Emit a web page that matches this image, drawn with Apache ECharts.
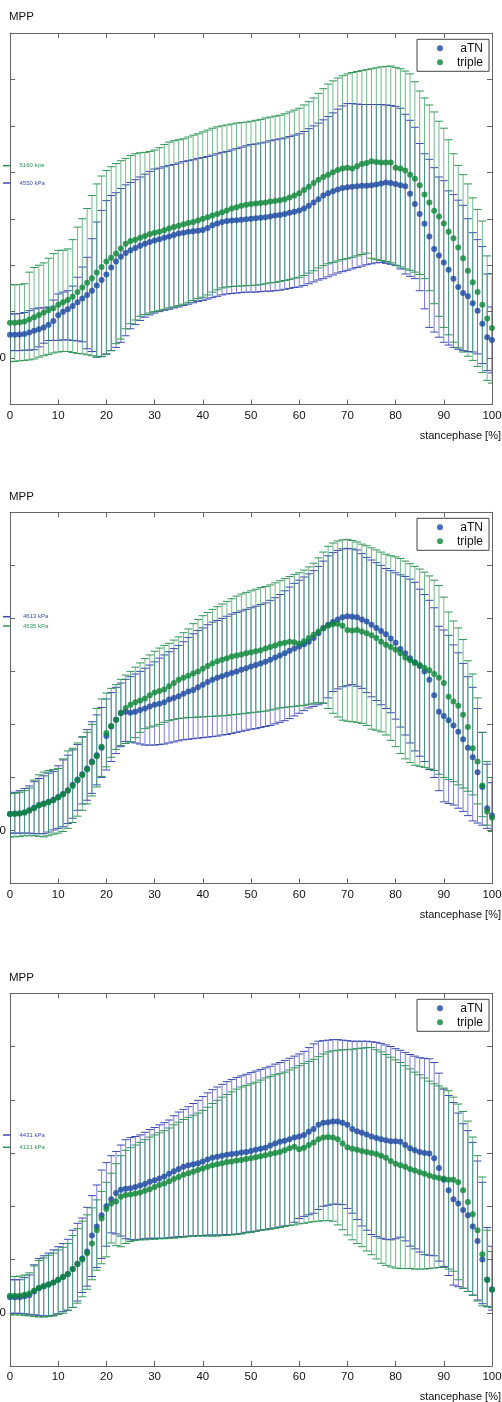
<!DOCTYPE html>
<html><head><meta charset="utf-8">
<script src="https://cdn.jsdelivr.net/npm/echarts@6/dist/echarts.min.js"></script>
<style>html,body{margin:0;padding:0;background:#fff}#c{width:502px;height:1402px}</style>
</head><body><div id="c"></div><script>
// stance phase positions (0..100 %)
const stance = Array.from({length: 101}, (_, i) => i);
const yTickLabels = ['0'];
const seriesNames = ['aTN', 'triple'];

// ---------- Panel 1 ----------
const p1_aTN_mean = [
.50,.50,.51,.52,.55,.59,.62,.66,.72,.80,
.92,1.00,1.05,1.12,1.20,1.28,1.36,1.45,1.56,1.68,
1.80,1.95,2.08,2.18,2.26,2.32,2.37,2.42,2.46,2.50,
2.53,2.56,2.59,2.62,2.65,2.68,2.70,2.72,2.73,2.74,
2.76,2.80,2.86,2.90,2.93,2.95,2.96,2.97,2.98,2.99,
3.00,3.01,3.02,3.03,3.05,3.07,3.08,3.10,3.13,3.15,
3.18,3.22,3.28,3.35,3.42,3.50,3.55,3.59,3.63,3.66,
3.68,3.69,3.70,3.71,3.71,3.72,3.74,3.76,3.78,3.77,
3.75,3.72,3.70,3.54,3.32,3.10,2.89,2.62,2.35,2.21,
2.06,1.90,1.71,1.53,1.40,1.33,1.18,1.02,0.74,0.45,0.39];
const p1_aTN_hi = [
.95,.95,.96,.98,1.02,1.06,1.08,1.08,1.10,1.25,
1.38,1.42,1.45,1.55,1.74,1.96,2.17,2.57,2.93,3.18,
3.39,3.50,3.56,3.65,3.73,3.78,3.84,3.90,3.96,4.02,
4.07,4.09,4.12,4.15,4.17,4.20,4.23,4.25,4.27,4.30,
4.32,4.34,4.37,4.40,4.43,4.45,4.48,4.51,4.54,4.57,
4.60,4.61,4.63,4.65,4.68,4.70,4.72,4.74,4.77,4.80,
4.83,4.88,4.94,5.00,5.06,5.13,5.20,5.28,5.36,5.43,
5.48,5.48,5.47,5.46,5.46,5.46,5.46,5.46,5.45,5.44,
5.42,5.38,5.25,5.12,4.97,4.62,4.40,4.28,4.10,3.90,
3.82,3.60,3.52,3.40,3.29,3.00,2.70,2.55,2.40,1.81,1.10];
const p1_aTN_lo = [
.16,.16,.16,.17,.17,.18,.24,.32,.38,.38,
.38,.39,.39,.38,.37,.35,.20,.14,.02,.03,
.09,.16,.23,.34,.48,.63,.72,.81,.88,.93,
.97,1.00,1.03,1.05,1.08,1.10,1.13,1.16,1.19,1.22,
1.24,1.27,1.30,1.33,1.36,1.38,1.39,1.40,1.41,1.42,
1.42,1.42,1.43,1.44,1.44,1.45,1.46,1.48,1.50,1.52,
1.53,1.56,1.60,1.64,1.68,1.71,1.75,1.79,1.83,1.86,
1.89,1.92,1.95,1.98,2.01,2.03,2.05,2.06,2.04,2.02,
1.99,1.92,1.81,1.76,1.71,1.45,1.06,.66,.56,.45,
.34,.28,.23,.19,.16,.14,.13,.09,-.12,-.27,-.32];
const p1_triple_mean = [
.76,.76,.77,.79,.83,.88,.93,.98,1.03,1.07,
1.15,1.20,1.25,1.32,1.42,1.52,1.62,1.72,1.84,1.96,
2.08,2.16,2.25,2.36,2.46,2.52,2.55,2.59,2.63,2.67,
2.70,2.72,2.75,2.79,2.82,2.85,2.88,2.91,2.93,2.96,
3.00,3.03,3.07,3.10,3.14,3.18,3.22,3.25,3.28,3.30,
3.32,3.33,3.34,3.35,3.37,3.38,3.40,3.42,3.46,3.50,
3.55,3.62,3.69,3.77,3.84,3.90,3.95,4.00,4.05,4.08,
4.10,4.08,4.13,4.18,4.20,4.24,4.22,4.21,4.21,4.21,
4.10,4.08,4.04,3.95,3.86,3.72,3.52,3.35,3.17,3.05,
2.90,2.72,2.58,2.38,2.15,1.88,1.63,1.42,1.15,0.85,0.65];
const p1_triple_hi = [
1.58,1.58,1.58,1.60,1.85,1.95,2.00,2.05,2.15,2.25,
2.32,2.32,2.35,2.55,2.82,3.00,3.22,3.50,3.75,3.92,
4.04,4.12,4.19,4.25,4.30,4.36,4.40,4.42,4.43,4.45,
4.48,4.53,4.60,4.65,4.68,4.70,4.72,4.76,4.80,4.83,
4.87,4.91,4.95,4.98,5.00,5.02,5.04,5.06,5.07,5.08,
5.10,5.12,5.14,5.17,5.19,5.21,5.23,5.26,5.30,5.34,
5.38,5.45,5.52,5.60,5.70,5.80,5.90,5.97,6.03,6.08,
6.12,6.15,6.17,6.19,6.21,6.23,6.25,6.27,6.28,6.29,
6.26,6.23,6.18,6.12,5.95,5.75,5.60,5.45,5.30,5.10,
4.95,4.70,4.40,4.15,3.95,3.75,3.45,3.20,2.95,2.20,1.82];
const p1_triple_lo = [
-.08,-.07,-.06,-.05,-.04,-.02,.02,.05,.08,.11,
.13,.14,.14,.12,.10,.09,.07,.05,.02,.04,
.08,.16,.31,.41,.63,.74,.82,.90,.94,.97,
1.00,1.02,1.05,1.08,1.10,1.13,1.16,1.20,1.24,1.28,
1.31,1.36,1.42,1.47,1.51,1.53,1.54,1.55,1.55,1.56,
1.56,1.57,1.58,1.60,1.62,1.63,1.65,1.67,1.69,1.72,
1.74,1.78,1.83,1.88,1.94,1.99,2.03,2.06,2.09,2.12,
2.14,2.17,2.20,2.23,2.26,2.15,2.12,2.10,2.08,2.05,
2.00,1.96,1.92,1.89,1.85,1.80,1.71,1.45,1.17,.90,
.66,.50,.34,.22,.13,.04,-.05,-.18,-.31,-.48,-.54];

// ---------- Panel 2 ----------
const p2_aTN_mean = [
.31,.32,.32,.34,.38,.43,.48,.51,.54,.58,
.63,.69,.76,.86,.96,1.06,1.17,1.30,1.42,1.56,
1.78,1.96,2.09,2.21,2.24,2.22,2.24,2.27,2.30,2.34,
2.37,2.39,2.42,2.47,2.50,2.53,2.58,2.62,2.65,2.70,
2.75,2.80,2.84,2.88,2.91,2.94,2.97,3.00,3.03,3.06,
3.09,3.12,3.15,3.18,3.22,3.26,3.30,3.34,3.39,3.43,
3.47,3.51,3.56,3.63,3.72,3.82,3.88,3.93,3.98,4.02,
4.04,4.03,4.02,3.98,3.94,3.88,3.82,3.76,3.70,3.62,
3.54,3.42,3.34,3.25,3.17,3.10,3.00,2.84,2.55,2.24,
2.16,2.08,1.98,1.86,1.72,1.56,1.38,1.10,0.82,0.42,0.28];
const p2_aTN_hi = [
.70,.72,.75,.79,.84,.92,.98,1.03,1.08,1.11,
1.22,1.33,1.42,1.52,1.62,1.76,1.90,2.05,2.18,2.32,
2.48,2.60,2.70,2.78,2.85,2.90,2.95,3.00,3.06,3.12,
3.18,3.25,3.31,3.37,3.43,3.49,3.56,3.64,3.71,3.77,
3.82,3.88,3.93,3.96,4.00,4.04,4.08,4.11,4.14,4.17,
4.20,4.23,4.26,4.29,4.34,4.39,4.45,4.52,4.59,4.66,
4.72,4.78,4.84,4.90,4.98,5.08,5.18,5.24,5.28,5.31,
5.32,5.31,5.29,5.22,5.15,5.10,5.05,5.00,4.94,4.90,
4.86,4.82,4.79,4.74,4.68,4.55,4.45,4.34,4.20,3.85,
3.78,3.68,3.50,3.35,3.15,2.90,2.70,2.30,1.85,1.25,0.90];
const p2_aTN_lo = [
-.05,-.05,-.05,-.05,-.05,-.06,-.06,-.06,-.03,.01,
.04,.07,.13,.23,.38,.50,.57,.70,.86,1.00,
1.14,1.30,1.45,1.58,1.68,1.67,1.65,1.63,1.61,1.61,
1.61,1.62,1.63,1.65,1.67,1.69,1.71,1.72,1.73,1.74,
1.75,1.76,1.77,1.78,1.80,1.81,1.83,1.85,1.87,1.89,
1.91,1.92,1.94,1.96,1.98,2.01,2.04,2.07,2.11,2.16,
2.21,2.26,2.31,2.34,2.37,2.40,2.50,2.62,2.67,2.71,
2.73,2.75,2.72,2.68,2.60,2.52,2.45,2.37,2.30,2.22,
2.10,1.95,1.80,1.65,1.50,1.40,1.30,1.15,1.00,.75,
.54,.51,.48,.42,.36,.28,.18,.14,.10,.04,-.02];
const p2_triple_mean = [
.31,.31,.32,.34,.37,.42,.47,.50,.53,.57,
.62,.68,.75,.84,.94,1.04,1.15,1.28,1.40,1.58,
1.84,1.97,2.09,2.22,2.31,2.37,2.42,2.45,2.49,2.55,
2.60,2.63,2.66,2.72,2.78,2.84,2.88,2.92,2.96,3.00,
3.05,3.10,3.15,3.19,3.22,3.25,3.28,3.30,3.32,3.34,
3.36,3.38,3.40,3.43,3.46,3.49,3.52,3.54,3.56,3.55,
3.52,3.57,3.63,3.69,3.75,3.81,3.86,3.89,3.90,3.86,
3.78,3.77,3.78,3.75,3.72,3.68,3.63,3.56,3.50,3.46,
3.41,3.34,3.26,3.21,3.16,3.12,3.07,3.02,2.95,2.88,
2.78,2.52,2.43,2.35,2.18,1.95,1.55,1.30,0.85,0.36,0.24];
const p2_triple_hi = [
.70,.70,.72,.75,.80,.95,1.05,1.10,1.13,1.15,
1.17,1.35,1.50,1.55,1.65,1.77,1.85,2.00,2.30,2.48,
2.59,2.68,2.75,2.85,2.93,3.00,3.08,3.16,3.24,3.31,
3.38,3.44,3.49,3.53,3.59,3.65,3.73,3.80,3.90,3.98,
4.05,4.11,4.17,4.22,4.27,4.32,4.37,4.42,4.46,4.49,
4.52,4.55,4.58,4.60,4.63,4.67,4.71,4.75,4.79,4.83,
4.86,4.91,4.97,5.04,5.14,5.25,5.36,5.42,5.46,5.48,
5.49,5.47,5.44,5.40,5.37,5.33,5.29,5.25,5.21,5.18,
5.16,5.13,5.08,5.03,4.98,4.93,4.87,4.80,4.72,4.62,
4.40,4.12,3.95,3.82,3.60,3.20,2.95,2.50,1.85,1.30,1.00];
const p2_triple_lo = [
-.12,-.12,-.11,-.10,-.10,-.10,-.11,-.12,-.10,-.07,
-.05,-.02,.04,.15,.27,.38,.50,.65,.82,1.02,
1.20,1.38,1.53,1.60,1.64,1.67,1.75,1.85,1.92,1.95,
1.97,2.00,2.04,2.07,2.09,2.11,2.12,2.13,2.13,2.14,
2.14,2.15,2.15,2.16,2.16,2.17,2.18,2.19,2.20,2.21,
2.22,2.23,2.24,2.25,2.27,2.29,2.31,2.32,2.33,2.34,
2.35,2.36,2.38,2.40,2.41,2.40,2.30,2.21,2.14,2.08,
2.06,2.05,2.04,2.02,1.98,1.91,1.89,1.86,1.80,1.70,
1.58,1.45,1.35,1.28,1.23,1.21,1.19,1.16,1.13,1.06,
1.00,.96,.92,.86,.80,.74,.67,.50,.26,.10,-.02];

// ---------- Panel 3 ----------
const p3_aTN_mean = [
.29,.29,.29,.31,.33,.40,.46,.50,.53,.57,
.62,.67,.73,.82,.92,1.02,1.15,1.45,1.62,1.83,
2.00,2.13,2.25,2.31,2.33,2.34,2.36,2.39,2.42,2.46,
2.49,2.52,2.56,2.61,2.66,2.70,2.74,2.77,2.79,2.81,
2.84,2.88,2.91,2.93,2.95,2.97,2.98,2.99,3.01,3.02,
3.04,3.06,3.08,3.10,3.14,3.18,3.21,3.23,3.26,3.29,
3.31,3.34,3.40,3.45,3.53,3.57,3.58,3.59,3.59,3.57,
3.53,3.45,3.41,3.38,3.35,3.31,3.28,3.26,3.24,3.22,
3.22,3.21,3.15,3.09,3.05,3.02,3.00,2.99,2.90,2.72,
2.50,2.30,2.13,2.05,1.93,1.83,1.62,1.35,1.00,0.62,0.44];
const p3_aTN_hi = [
.62,.62,.62,.66,.71,.90,1.02,1.07,1.12,1.18,
1.24,1.30,1.38,1.55,1.68,1.78,1.98,2.20,2.40,2.68,
2.82,2.95,3.03,3.15,3.25,3.29,3.31,3.34,3.39,3.44,
3.48,3.53,3.57,3.62,3.70,3.77,3.82,3.87,3.93,3.99,
4.06,4.13,4.19,4.24,4.29,4.34,4.38,4.42,4.45,4.48,
4.51,4.54,4.57,4.60,4.63,4.67,4.70,4.74,4.78,4.82,
4.86,4.91,4.98,5.05,5.10,5.11,5.12,5.13,5.13,5.12,
5.11,5.10,5.10,5.10,5.10,5.09,5.08,5.06,5.03,5.00,
4.96,4.93,4.89,4.85,4.82,4.79,4.78,4.77,4.70,4.50,
4.20,4.08,3.95,3.75,3.55,3.42,3.20,2.85,2.45,1.60,1.25];
const p3_aTN_lo = [
-.01,-.01,-.01,-.02,-.03,-.04,-.05,-.06,-.06,-.05,
-.02,.02,.05,.10,.22,.38,.50,.68,.85,1.02,
1.25,1.50,1.48,1.44,1.39,1.37,1.37,1.38,1.39,1.40,
1.40,1.40,1.40,1.41,1.42,1.43,1.43,1.44,1.44,1.45,
1.45,1.46,1.46,1.46,1.46,1.47,1.47,1.48,1.49,1.51,
1.52,1.53,1.55,1.56,1.58,1.59,1.61,1.63,1.64,1.70,
1.77,1.81,1.84,1.87,1.94,2.00,2.02,2.04,2.04,2.03,
1.96,1.87,1.75,1.63,1.55,1.47,1.43,1.40,1.38,1.37,
1.39,1.42,1.35,1.25,1.20,1.14,1.09,1.08,1.07,.97,
.87,.70,.52,.49,.46,.40,.33,.24,.17,.12,.05];
const p3_triple_mean = [
.32,.32,.32,.34,.36,.42,.47,.50,.53,.57,
.62,.67,.73,.82,.91,1.00,1.12,1.30,1.55,1.77,
1.95,2.05,2.09,2.18,2.21,2.22,2.24,2.26,2.29,2.32,
2.36,2.40,2.43,2.47,2.51,2.55,2.59,2.62,2.65,2.68,
2.71,2.74,2.77,2.79,2.81,2.83,2.84,2.86,2.87,2.89,
2.90,2.92,2.94,2.96,2.98,3.00,3.02,3.05,3.09,3.12,
3.07,3.10,3.15,3.20,3.26,3.29,3.30,3.29,3.26,3.18,
3.11,3.08,3.06,3.04,3.02,3.00,2.98,2.95,2.91,2.85,
2.80,2.77,2.74,2.70,2.67,2.64,2.61,2.58,2.55,2.53,
2.52,2.50,2.50,2.45,2.30,2.08,1.85,1.55,1.10,0.62,0.43];
const p3_triple_hi = [
.68,.68,.69,.71,.75,.88,.98,1.03,1.08,1.12,
1.18,1.23,1.30,1.45,1.58,1.72,1.84,1.97,2.12,2.28,
2.45,2.62,2.80,2.95,3.05,3.10,3.15,3.20,3.25,3.30,
3.34,3.38,3.42,3.47,3.53,3.58,3.63,3.67,3.71,3.75,
3.80,3.86,3.93,3.99,4.05,4.10,4.15,4.20,4.24,4.27,
4.30,4.33,4.37,4.41,4.44,4.47,4.49,4.52,4.56,4.60,
4.64,4.68,4.72,4.76,4.81,4.86,4.90,4.92,4.93,4.94,
4.94,4.95,4.96,4.97,4.98,4.98,4.94,4.90,4.85,4.80,
4.75,4.70,4.64,4.58,4.52,4.47,4.41,4.35,4.30,4.26,
4.22,4.17,4.05,3.92,3.78,3.60,3.30,2.95,2.55,1.55,1.15];
const p3_triple_lo = [
-.04,-.04,-.04,-.05,-.06,-.07,-.08,-.08,-.07,-.06,
-.03,-.01,.04,.10,.18,.30,.44,.62,.80,.92,
1.05,1.31,1.26,1.24,1.30,1.34,1.36,1.37,1.37,1.38,
1.38,1.39,1.39,1.40,1.40,1.41,1.42,1.43,1.44,1.44,
1.44,1.44,1.44,1.44,1.45,1.45,1.46,1.47,1.48,1.50,
1.51,1.53,1.55,1.56,1.57,1.59,1.60,1.62,1.64,1.65,
1.67,1.68,1.70,1.71,1.72,1.73,1.73,1.72,1.65,1.56,
1.46,1.37,1.30,1.24,1.16,1.09,1.01,.93,.89,.86,
.84,.83,.83,.83,.82,.82,.82,.83,.84,.85,
.85,.82,.78,.62,.46,.40,.33,.22,.13,.11,.10];

// peak annotations (text as printed)
const p1_notes = [{t:'5160 kpa', s:'triple'}, {t:'4550 kPa', s:'aTN'}];
const p2_notes = [{t:'4613 kPa', s:'aTN'}, {t:'4535 kPa', s:'triple'}];
const p3_notes = [{t:'4431 kPa', s:'aTN'}, {t:'4121 kPa', s:'triple'}];

// ---------- styling ----------
const FONT = '"Liberation Sans", Arial, sans-serif';
const AXC = '#666';
const col = {
  aTN:    {dot:'#1a46a3', bar:'rgba(80,80,195,0.75)', cap:'#3b49b3'},
  triple: {dot:'#0c8736', bar:'rgba(50,155,90,0.7)',  cap:'#2e9556'}
};
const layout = [
  {top:33,    h:371.5, ymin:-1, ymax:7, title:16.7,  xname:435.5, legTop:39.3,
   noteY:[165.7,183], noteX:19.5},
  {top:512.3, h:371.2, ymin:-1, ymax:6, title:496.7, xname:914.5, legTop:518.3,
   noteY:[616.7,626], noteX:23},
  {top:993.3, h:372.7, ymin:-1, ymax:6, title:978.3, xname:1396.7, legTop:999.3,
   noteY:[1135,1147.3], noteX:19.5}
];
const data = [
  {aTN:[p1_aTN_mean,p1_aTN_lo,p1_aTN_hi], triple:[p1_triple_mean,p1_triple_lo,p1_triple_hi], notes:p1_notes},
  {aTN:[p2_aTN_mean,p2_aTN_lo,p2_aTN_hi], triple:[p2_triple_mean,p2_triple_lo,p2_triple_hi], notes:p2_notes},
  {aTN:[p3_aTN_mean,p3_aTN_lo,p3_aTN_hi], triple:[p3_triple_mean,p3_triple_lo,p3_triple_hi], notes:p3_notes}
];

function errRender(c) {
  return function (params, api) {
    const x = api.value(0), lo = api.value(1), hi = api.value(2);
    const a = api.coord([x, lo]), b = api.coord([x, hi]);
    const hw = 4;
    return {type:'group', children:[
      {type:'line', shape:{x1:a[0], y1:a[1], x2:b[0], y2:b[1]}, style:{stroke:c.bar, lineWidth:1}},
      {type:'line', shape:{x1:a[0]-hw, y1:a[1], x2:a[0]+hw, y2:a[1]}, style:{stroke:c.cap, lineWidth:1}},
      {type:'line', shape:{x1:b[0]-hw, y1:b[1], x2:b[0]+hw, y2:b[1]}, style:{stroke:c.cap, lineWidth:1}}
    ]};
  };
}

const grid = [], xAxis = [], yAxis = [], series = [], title = [], legend = [], graphic = [];
layout.forEach((L, i) => {
  grid.push({left:10, top:L.top, width:482, height:L.h, containLabel:false, outerBoundsMode:'none'});
  const xBase = {type:'value', gridIndex:i, min:0, max:100, interval:10,
    axisLine:{onZero:false, lineStyle:{color:AXC, width:1}}, splitLine:{show:false},
    axisTick:{inside:true, length:5, lineStyle:{color:AXC}}};
  xAxis.push(Object.assign({}, xBase, {position:'bottom',
    axisLabel:{color:'#111', fontSize:11.5, fontFamily:FONT, margin:5, hideOverlap:false}}));
  xAxis.push(Object.assign({}, xBase, {position:'top', axisLabel:{show:false}}));
  const yBase = {type:'value', gridIndex:i, min:L.ymin, max:L.ymax, interval:1,
    axisLine:{show:true, onZero:false, lineStyle:{color:AXC, width:1}}, splitLine:{show:false},
    axisTick:{show:true, inside:true, length:5, lineStyle:{color:AXC}}};
  yAxis.push(Object.assign({}, yBase, {position:'left',
    axisLabel:{color:'#111', fontSize:11.5, fontFamily:FONT, margin:4,
      formatter: v => (yTickLabels.indexOf(String(v)) >= 0 ? String(v) : '')}}));
  yAxis.push(Object.assign({}, yBase, {position:'right', axisLabel:{show:false}}));

  const xi = i * 2, yi = i * 2;
  seriesNames.forEach(n => {
    const [m, lo, hi] = data[i][n];
    series.push({type:'custom', name:n + ' SD', xAxisIndex:xi, yAxisIndex:yi, clip:true, z:2,
      renderItem: errRender(col[n]), encode:{x:0, y:[1,2]},
      data: stance.map((x, k) => [x, lo[k], hi[k]])});
  });
  seriesNames.forEach(n => {
    const m = data[i][n][0];
    series.push({type:'scatter', name:n, xAxisIndex:xi, yAxisIndex:yi, z:3,
      symbol:'circle', symbolSize:6, itemStyle:{color:col[n].dot},
      data: stance.map((x, k) => [x, m[k]])});
  });

  title.push({text:'MPP', left:9, top:L.title - 7, padding:0,
    textStyle:{fontSize:11.5, fontWeight:'normal', color:'#111', fontFamily:FONT, lineHeight:14}});
  title.push({text:'stancephase [%]', right:1, top:L.xname - 7, padding:0,
    textStyle:{fontSize:11, fontWeight:'normal', color:'#111', fontFamily:FONT, lineHeight:14}});

  legend.push({data:seriesNames, left:417, top:L.legTop, orient:'vertical',
    padding:[3,6,3,20], itemGap:2, itemWidth:6, itemHeight:6, icon:'circle',
    backgroundColor:'#fff', borderColor:'#444', borderWidth:1, borderRadius:0,
    selectedMode:false,
    formatter: '{a|{name}}',
    textStyle:{fontFamily:FONT, fontSize:12, color:'#111',
      rich:{a:{width:35, align:'right', fontSize:12, lineHeight:12, fontFamily:FONT, color:'#111'}}}});

  data[i].notes.forEach((nt, k) => {
    const c = col[nt.s];
    graphic.push({type:'line', shape:{x1:3, y1:L.noteY[k], x2:10, y2:L.noteY[k]},
      style:{stroke:c.cap, lineWidth:1.5}, z:10});
    graphic.push({type:'text', x:L.noteX, y:L.noteY[k],
      style:{text:nt.t, fill:c.cap, font:'6px ' + FONT, textVerticalAlign:'middle'}, z:10});
  });
});

const chart = echarts.init(document.getElementById('c'), null, {renderer:'canvas'});
chart.setOption({animation:false, backgroundColor:'#fff',
  grid, xAxis, yAxis, series, title, legend, graphic});
</script></body></html>
